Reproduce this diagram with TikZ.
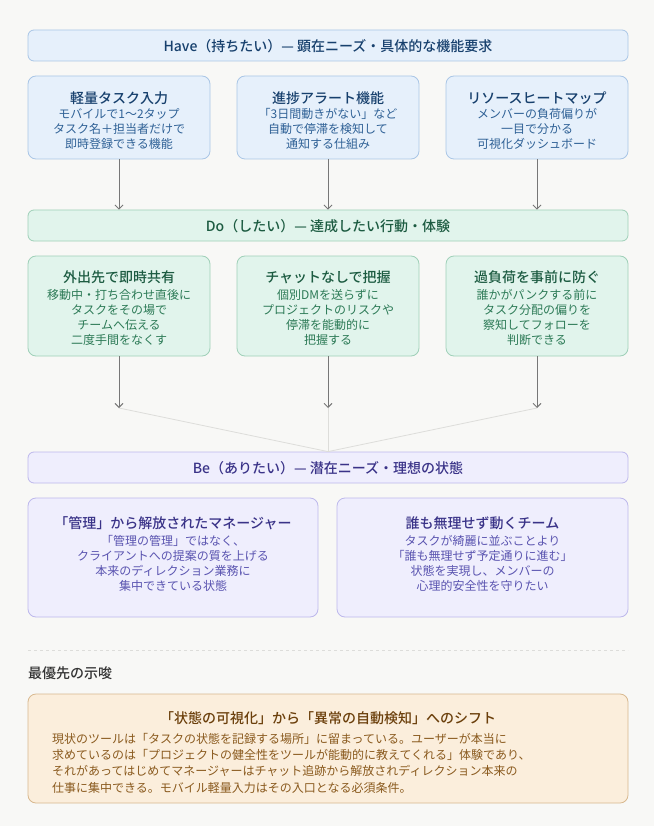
\documentclass[tikz,border=0pt]{standalone}
\usepackage{fontspec}
\setmainfont{Noto Sans CJK JP}
\newfontfamily\medfont{Noto Sans CJK JP Medium}
\usetikzlibrary{arrows.meta}
\definecolor{bg}{HTML}{F8F8F6}
\definecolor{hafill}{HTML}{E6F0FB}
\definecolor{hadraw}{HTML}{A9C6E6}
\definecolor{hatxt}{HTML}{17406D}
\definecolor{habody}{HTML}{2F6196}
\definecolor{dofill}{HTML}{E1F4EC}
\definecolor{dodraw}{HTML}{9FD0B8}
\definecolor{dotxt}{HTML}{1C5B41}
\definecolor{dobody}{HTML}{2C7A56}
\definecolor{befill}{HTML}{EFEEFD}
\definecolor{bedraw}{HTML}{BDB8EC}
\definecolor{betxt}{HTML}{3A3388}
\definecolor{bebody}{HTML}{5A54B0}
\definecolor{orfill}{HTML}{FBEEDC}
\definecolor{ordraw}{HTML}{D8B88E}
\definecolor{ortxt}{HTML}{6B3F0B}
\definecolor{orbody}{HTML}{8A5A1E}
\definecolor{arr}{HTML}{777777}
\definecolor{faint}{HTML}{DDDDDA}
\tikzset{
  bar/.style={draw=#1draw, fill=#1fill, rounded corners=6pt, line width=0.8pt, minimum width=600pt, minimum height=31pt, inner sep=0pt},
  card/.style={draw=#1draw, fill=#1fill, rounded corners=8pt, line width=0.8pt, inner sep=0pt},
  bartext/.style={text=#1txt, font=\fontsize{14}{16}\selectfont\medfont, inner sep=0pt},
  cardtitle/.style={text=#1txt, font=\fontsize{14}{16}\selectfont\medfont, inner sep=0pt},
  cardbody/.style={text=#1body, font=\fontsize{12}{15}\selectfont, align=center, inner sep=0pt},
  flow/.style={draw=arr, line width=0.9pt, -{Straight Barb[length=4pt,width=8pt]}},
  merge/.style={draw=faint, line width=0.8pt}
}
\begin{document}
\begin{tikzpicture}[x=1pt,y=-1pt]
\useasboundingbox[fill=bg] (0,0) rectangle (654,826);

% Have
\node[bar=ha] (have) at (328,45.5) {};
\node[bartext=ha] (havet) at (328,46) {Have（持ちたい）— 顕在ニーズ・具体的な機能要求};

\node[card=ha, minimum width=182pt, minimum height=83pt] (h1) at (119,117.5) {};
\node[card=ha, minimum width=182pt, minimum height=83pt] (h2) at (328,117.5) {};
\node[card=ha, minimum width=182pt, minimum height=83pt] (h3) at (537,117.5) {};
\node[cardtitle=ha] (h1t) at (119,98) {軽量タスク入力};
\node[cardtitle=ha] (h2t) at (328,98) {進捗アラート機能};
\node[cardtitle=ha] (h3t) at (537,98) {リソースヒートマップ};
\node[cardbody=ha] (h1b) at (119,129) {モバイルで1〜2タップ\\タスク名＋担当者だけで\\即時登録できる機能};
\node[cardbody=ha] (h2b) at (328,129) {「3日間動きがない」など\\自動で停滞を検知して\\通知する仕組み};
\node[cardbody=ha] (h3b) at (537,129) {メンバーの負荷偏りが\\一目で分かる\\可視化ダッシュボード};

% Do
\node[bar=do] (do) at (328,225.5) {};
\node[bartext=do] (dot) at (328,226) {Do（したい）— 達成したい行動・体験};

\node[card=do, minimum width=182pt, minimum height=100pt] (d1) at (119,306) {};
\node[card=do, minimum width=182pt, minimum height=100pt] (d2) at (328,306) {};
\node[card=do, minimum width=182pt, minimum height=100pt] (d3) at (537,306) {};
\node[cardtitle=do] (d1t) at (119,277) {外出先で即時共有};
\node[cardtitle=do] (d2t) at (328,277) {チャットなしで把握};
\node[cardtitle=do] (d3t) at (537,277) {過負荷を事前に防ぐ};
\node[cardbody=do] (d1b) at (119,317.5) {移動中・打ち合わせ直後に\\タスクをその場で\\チームへ伝える\\二度手間をなくす};
\node[cardbody=do] (d2b) at (328,317.5) {個別DMを送らずに\\プロジェクトのリスクや\\停滞を能動的に\\把握する};
\node[cardbody=do] (d3b) at (537,317.5) {誰かがパンクする前に\\タスク分配の偏りを\\察知してフォローを\\判断できる};

% Be
\node[bar=be] (be) at (328,467.5) {};
\node[bartext=be] (bet) at (328,468) {Be（ありたい）— 潜在ニーズ・理想の状態};

\node[card=be, minimum width=290pt, minimum height=119pt] (b1) at (173,557.5) {};
\node[card=be, minimum width=291pt, minimum height=119pt] (b2) at (482.5,557.5) {};
\node[cardtitle=be] (b1t) at (173,523) {「管理」から解放されたマネージャー};
\node[cardtitle=be] (b2t) at (482.5,523) {誰も無理せず動くチーム};
\node[cardbody=be] (b1b) at (173,563.5) {「管理の管理」ではなく、\\クライアントへの提案の質を上げる\\本来のディレクション業務に\\集中できている状態};
\node[cardbody=be] (b2b) at (482.5,563.5) {タスクが綺麗に並ぶことより\\「誰も無理せず予定通りに進む」\\状態を実現し、メンバーの\\心理的安全性を守りたい};

% connectors Have -> Do
\draw[flow] (h1.south) -- (h1.south |- do.north);
\draw[flow] (h2.south) -- (h2.south |- do.north);
\draw[flow] (h3.south) -- (h3.south |- do.north);

% Do -> merge -> Be
\coordinate (m1) at (119,408);
\coordinate (m2) at (328,408);
\coordinate (m3) at (537,408);
\draw[merge] (m1) -- (be.north);
\draw[merge] (m2) -- (be.north);
\draw[merge] (m3) -- (be.north);
\draw[flow] (d1.south) -- (m1);
\draw[flow] (d2.south) -- (m2);
\draw[flow] (d3.south) -- (m3);

% separator
\coordinate (s1) at (28,650);
\coordinate (s2) at (628,650);
\draw[draw=faint, line width=0.8pt, dash pattern=on 3pt off 3pt] (s1) -- (s2);

\node[anchor=west, text=black!80, font=\fontsize{14}{16}\selectfont\medfont, inner sep=0pt] (imp) at (28,673) {最優先の示唆};

% insight
\node[card=or, minimum width=600pt, minimum height=109pt] (ins) at (328,748.5) {};
\node[cardtitle=or] (inst) at (328,718) {「状態の可視化」から「異常の自動検知」へのシフト};
\node[text=orbody, font=\fontsize{12}{16.3}\selectfont, align=left, anchor=west, inner sep=0pt] (insb) at (52,763) {現状のツールは「タスクの状態を記録する場所」に留まっている。ユーザーが本当に\\求めているのは「プロジェクトの健全性をツールが能動的に教えてくれる」体験であり、\\それがあってはじめてマネージャーはチャット追跡から解放されディレクション本来の\\仕事に集中できる。モバイル軽量入力はその入口となる必須条件。};
\end{tikzpicture}
\end{document}
